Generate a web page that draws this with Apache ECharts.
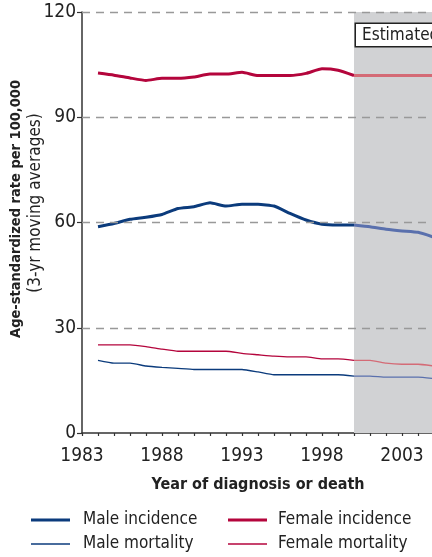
<!DOCTYPE html>
<html>
<head>
<meta charset="utf-8">
<script src="https://cdn.jsdelivr.net/npm/echarts@6/dist/echarts.min.js"></script>
<style>
  html, body { margin: 0; padding: 0; background: #fff; }
  #chart { width: 432px; height: 557px; }
</style>
</head>
<body>
<div id="chart"></div>
<script>
// Rates per 100,000 (3-year moving averages); values from 2000 on are estimates.
const years = [1984, 1985, 1986, 1987, 1988, 1989, 1990, 1991, 1992, 1993, 1994,
               1995, 1996, 1997, 1998, 1999, 2000, 2001, 2002, 2003, 2004, 2005];
const maleIncidence = [58.8, 59.7, 60.9, 61.5, 62.3, 64.0, 64.5, 65.6, 64.7, 65.2, 65.2,
                       64.7, 62.6, 60.7, 59.5, 59.3, 59.3, 58.8, 58.1, 57.6, 57.2, 55.8];
const femaleIncidence = [102.6, 102.0, 101.2, 100.5, 101.1, 101.1, 101.5, 102.3, 102.3, 102.8, 101.9,
                         101.9, 101.9, 102.5, 103.8, 103.4, 101.9, 101.9, 101.9, 101.9, 101.9, 101.9];
const maleMortality = [20.7, 19.9, 19.9, 19.1, 18.7, 18.4, 18.1, 18.1, 18.1, 18.1, 17.4,
                       16.6, 16.6, 16.6, 16.6, 16.6, 16.2, 16.2, 15.9, 15.9, 15.9, 15.5];
const femaleMortality = [25.1, 25.1, 25.1, 24.6, 23.9, 23.3, 23.3, 23.3, 23.3, 22.7, 22.3,
                         21.9, 21.7, 21.7, 21.1, 21.1, 20.7, 20.7, 19.9, 19.6, 19.6, 19.1];
const estimateStart = 2000;
const xRange = [1983, 2005];
const yTicks = [30, 60, 90, 120];

const FONT = '"Liberation Sans Narrow", "DejaVu Sans Condensed", "Roboto", sans-serif';
const BLUE = '#0b3b7c', BLUE_EST = '#5a70ad';
const RED = '#b4053c', RED_EST = '#d46b76';

const cut = years.indexOf(estimateStart);
function pairs(vals, from, to) {
  return years.slice(from, to).map((y, i) => [y, vals[from + i]]);
}
function lineSeries(name, vals, color, estColor, width) {
  const common = { type: 'line', symbol: 'none', smooth: 0.15, z: 3 };
  return [
    Object.assign({}, common, { name: name, data: pairs(vals, 0, cut + 1),
      lineStyle: { color: color, width: width }, itemStyle: { color: color } }),
    Object.assign({}, common, { name: name + ' (estimated)', data: pairs(vals, cut, years.length),
      lineStyle: { color: estColor, width: width }, itemStyle: { color: estColor } })
  ];
}

// one legend entry per slot: two columns (male / female), two rows (incidence / mortality)
function legendItem(name, left, top, thickness, textPad) {
  return {
    data: [name], left: left, top: top, padding: 0, icon: 'rect',
    itemWidth: 39, itemHeight: thickness, selectedMode: false,
    textStyle: { fontFamily: FONT, fontSize: 17, lineHeight: 20, color: '#222',
                 padding: [0, 0, 0, textPad] }
  };
}

const chart = echarts.init(document.getElementById('chart'), null, { renderer: 'canvas' });

chart.setOption({
  animation: false,
  grid: { left: 82, top: 12, width: 352, height: 421, containLabel: false, outerBoundsMode: 'none' },
  legend: [
    legendItem('Male incidence', 31, 510, 3, 8),
    legendItem('Male mortality', 31, 534, 1.5, 8),
    legendItem('Female incidence', 228, 510, 3, 6),
    legendItem('Female mortality', 228, 534, 1.5, 6)
  ],
  xAxis: {
    type: 'value', min: xRange[0], max: xRange[1], interval: 1,
    axisLine: { show: true, lineStyle: { color: '#333', width: 1.5 } },
    axisTick: { show: true, length: 3, lineStyle: { color: '#333', width: 1.2 } },
    splitLine: { show: false },
    axisLabel: {
      fontFamily: FONT, fontSize: 19, color: '#222', margin: 14,
      formatter: v => ((v - xRange[0]) % 5 === 0 ? String(v) : '')
    },
    name: 'Year of diagnosis or death', nameLocation: 'middle', nameGap: 44,
    nameTextStyle: { fontFamily: FONT, fontSize: 16, fontWeight: 'bold', color: '#222' }
  },
  yAxis: {
    type: 'value', min: 0, max: 120, interval: 30,
    axisLine: { show: true, lineStyle: { color: '#333', width: 1.5 } },
    axisTick: { show: true, length: 5, lineStyle: { color: '#333', width: 1.2 } },
    splitLine: { show: false },
    axisLabel: { fontFamily: FONT, fontSize: 19, color: '#222', margin: 6 }
  },
  graphic: [
    { type: 'text', x: 16, y: 209, rotation: Math.PI / 2,
      style: { text: 'Age-standardized rate per 100,000', fontFamily: FONT, fontSize: 14.5,
               fontWeight: 'bold', fill: '#222', textAlign: 'center', textVerticalAlign: 'middle' } },
    { type: 'text', x: 36, y: 203, rotation: Math.PI / 2,
      style: { text: '(3-yr moving averages)', fontFamily: FONT, fontSize: 17,
               fill: '#222', textAlign: 'center', textVerticalAlign: 'middle' } }
  ],
  series: [
    {
      // shaded band for the estimated years
      type: 'line', data: [], z: 1, silent: true,
      markArea: {
        silent: true,
        itemStyle: { color: '#d1d2d4' },
        label: {
          show: true, position: 'insideTopLeft', distance: 0, offset: [2, 12],
          formatter: 'Estimated', fontFamily: FONT, fontSize: 17, color: '#222',
          backgroundColor: '#fff', borderColor: '#222', borderWidth: 1.5, padding: [3, 6, 2, 6]
        },
        data: [[{ xAxis: estimateStart }, { xAxis: xRange[1] }]]
      }
    },
    {
      // dashed reference lines
      type: 'line', data: [], z: 2, silent: true,
      markLine: {
        silent: true, symbol: 'none', label: { show: false },
        lineStyle: { color: '#999', type: [8, 6], width: 1.4 },
        data: yTicks.map(v => ({ yAxis: v }))
      }
    },
    ...lineSeries('Male incidence', maleIncidence, BLUE, BLUE_EST, 3),
    ...lineSeries('Female incidence', femaleIncidence, RED, RED_EST, 3),
    ...lineSeries('Male mortality', maleMortality, BLUE, BLUE_EST, 1.3),
    ...lineSeries('Female mortality', femaleMortality, RED, RED_EST, 1.3)
  ]
});
</script>
</body>
</html>
